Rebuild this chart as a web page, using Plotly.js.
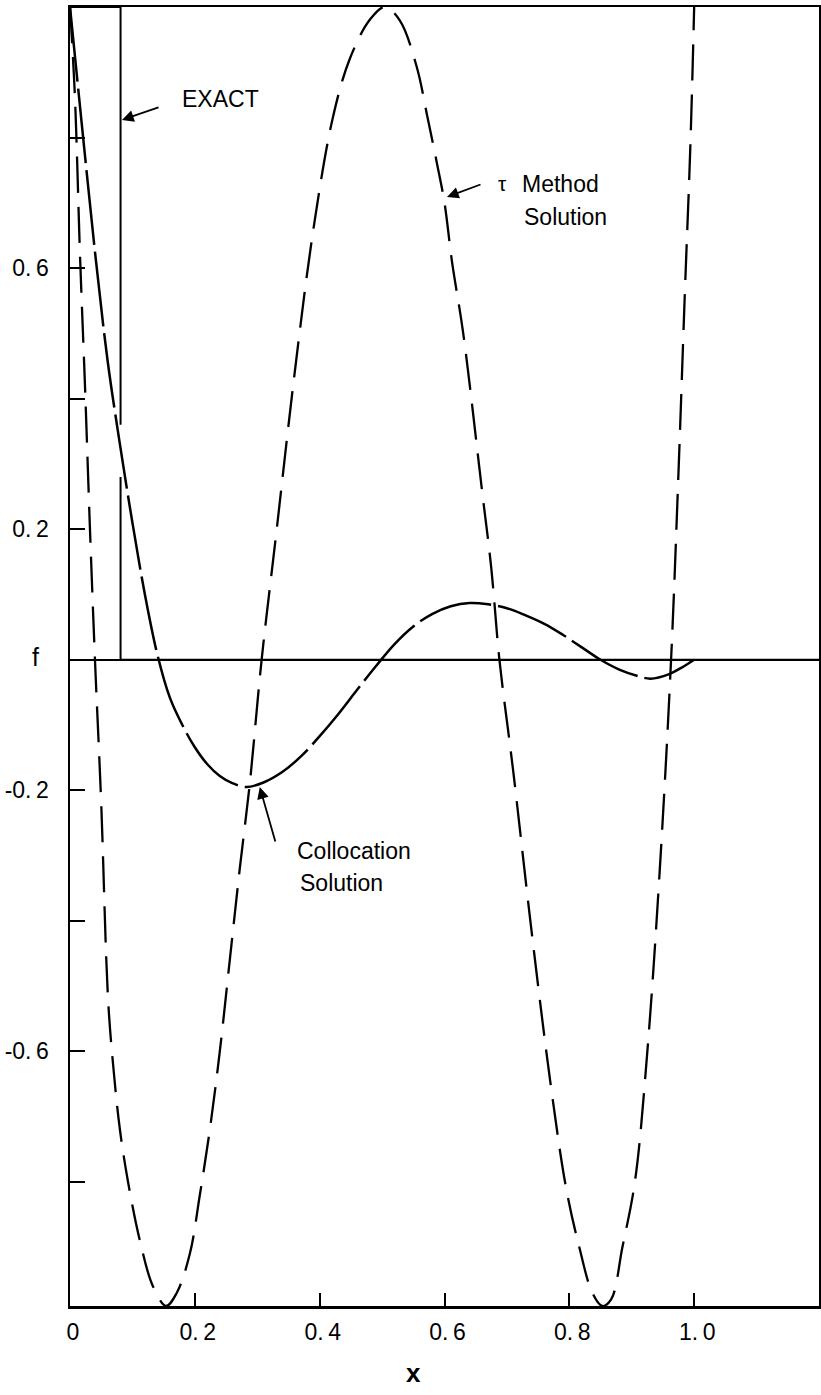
<!DOCTYPE html>
<html>
<head>
<meta charset="utf-8">
<script src="https://cdn.plot.ly/plotly-3.0.1.min.js"></script>
<style>
  html, body { margin: 0; padding: 0; background: #fff; }
  #chart { width: 821px; height: 1395px; }
</style>
</head>
<body>
<div id="chart"></div>
<script>
// ---- data ----
const tauX = [0, 0.008, 0.016, 0.024, 0.032, 0.040, 0.050, 0.061, 0.070, 0.080, 0.093, 0.112, 0.133, 0.154, 0.171, 0.192, 0.208, 0.224, 0.240, 0.256, 0.272, 0.288, 0.307, 0.330, 0.360, 0.390, 0.421, 0.448, 0.480, 0.504, 0.528, 0.555, 0.573, 0.588, 0.600, 0.612, 0.630, 0.660, 0.675, 0.688, 0.710, 0.740, 0.770, 0.795, 0.816, 0.837, 0.853, 0.867, 0.885, 0.905, 0.925, 0.945, 0.963, 0.975, 0.985, 0.994, 1.0];
const tauY = [1.0, 0.86, 0.62, 0.42, 0.20, 0.0, -0.22, -0.52, -0.63, -0.72, -0.80, -0.89, -0.96, -0.99, -0.97, -0.91, -0.82, -0.72, -0.60, -0.46, -0.32, -0.19, 0.0, 0.19, 0.44, 0.66, 0.83, 0.92, 0.98, 1.0, 0.98, 0.91, 0.83, 0.76, 0.70, 0.61, 0.50, 0.26, 0.14, 0.0, -0.17, -0.42, -0.65, -0.81, -0.90, -0.97, -0.99, -0.98, -0.90, -0.80, -0.60, -0.32, 0.0, 0.29, 0.56, 0.79, 1.0];

const collocX = [0, 0.02, 0.04, 0.06, 0.08, 0.10, 0.12, 0.14, 0.16, 0.18, 0.20, 0.22, 0.24, 0.26, 0.283, 0.31, 0.34, 0.37, 0.40, 0.43, 0.46, 0.49, 0.52, 0.55, 0.58, 0.61, 0.64, 0.67, 0.70, 0.73, 0.76, 0.79, 0.82, 0.85, 0.88, 0.91, 0.93, 0.96, 0.98, 1.0];
const collocY = [1.0, 0.81, 0.625, 0.46, 0.33, 0.21, 0.10, 0.008, -0.058, -0.100, -0.134, -0.160, -0.178, -0.189, -0.195, -0.188, -0.172, -0.148, -0.117, -0.083, -0.046, -0.010, 0.024, 0.051, 0.070, 0.082, 0.087, 0.085, 0.079, 0.068, 0.055, 0.038, 0.019, 0.0, -0.015, -0.025, -0.029, -0.022, -0.012, 0.0];

const exactX = [0, 0.081, 0.081, null, 0.081, 0.081, 1.2];
const exactY = [1.0, 1.0, 0.36, null, 0.28, 0.0, 0.0];

const xTickVals = [0, 0.2, 0.4, 0.6, 0.8, 1.0];
const xTickText = ["0", "0.\u20092", "0.\u20094", "0.\u20096", "0.\u20098", "1.\u20090"];
const yTickVals = [-0.8, -0.6, -0.4, -0.2, 0, 0.2, 0.4, 0.6, 0.8];
const yTickText = ["", "-0.\u20096", "", "-0.\u20092", "", "0.\u20092", "", "0.\u20096", ""];

const FONT = "Liberation Sans, Arial, sans-serif";

const traces = [
  {
    x: exactX, y: exactY, mode: "lines", type: "scatter",
    line: { color: "#000", width: 2 }, hoverinfo: "skip", showlegend: false
  },
  {
    x: tauX, y: tauY, mode: "lines", type: "scatter",
    line: { color: "#000", width: 2.3, dash: "36px,14px", shape: "spline", smoothing: 1 },
    hoverinfo: "skip", showlegend: false
  },
  {
    x: collocX, y: collocY, mode: "lines", type: "scatter",
    line: { color: "#000", width: 2.5, dash: "75px,7px", shape: "spline", smoothing: 1 },
    hoverinfo: "skip", showlegend: false
  }
];

const txt = (s, x, y, xanchor, size, bold) => ({
  text: bold ? "<b>" + s + "</b>" : s, xref: "paper", yref: "paper",
  x: x, y: y, xanchor: xanchor, yanchor: "middle", showarrow: false,
  font: { family: FONT, size: size, color: "#000" }
});

// paper coords helpers (plot area: x 70..819, y 7..1306)
const px = v => (v - 70) / 749;
const py = v => (1306 - v) / 1299;

const layout = {
  width: 821, height: 1395,
  margin: { l: 70, r: 2, t: 7, b: 89 },
  paper_bgcolor: "#fff", plot_bgcolor: "#fff",
  showlegend: false,
  font: { family: FONT, color: "#000" },
  xaxis: {
    range: [0, 1.2], showgrid: false, zeroline: false,
    showline: true, mirror: true, linecolor: "#000", linewidth: 2.5,
    ticks: "inside", ticklen: 13, tickwidth: 2, tickcolor: "#000",
    tickvals: xTickVals, ticktext: xTickText,
    tickfont: { family: FONT, size: 23, color: "#000" },
    ticklabelstandoff: 4, ticklabelshift: 3
  },
  yaxis: {
    range: [-0.99, 1.0], showgrid: false,
    zeroline: true, zerolinecolor: "#000", zerolinewidth: 1.6,
    showline: true, mirror: true, linecolor: "#000", linewidth: 2.5,
    ticks: "inside", ticklen: 15, tickwidth: 2, tickcolor: "#000",
    tickvals: yTickVals, ticktext: yTickText,
    tickfont: { family: FONT, size: 23, color: "#000" },
    ticklabelstandoff: 14
  },
  annotations: [
    txt("EXACT", px(180), py(99), "left", 23, false),
    txt("\u03c4", px(502), py(183), "center", 21, false),
    txt("Method", px(520), py(184), "left", 23, false),
    txt("Solution", px(522), py(217), "left", 23, false),
    txt("Collocation", px(295), py(851), "left", 23, false),
    txt("Solution", px(298), py(883), "left", 23, false),
    txt("f", px(35), py(657), "center", 25, false),
    txt("x", px(413), py(1373), "center", 26, true),
    {
      x: 0.0833, y: 0.827, xref: "x", yref: "y", text: "", showarrow: true,
      ax: 38, ay: -13, arrowhead: 2, arrowsize: 1.3, arrowwidth: 1.8, arrowcolor: "#000", standoff: 0
    },
    {
      x: 0.604, y: 0.709, xref: "x", yref: "y", text: "", showarrow: true,
      ax: 35, ay: -13, arrowhead: 2, arrowsize: 1.3, arrowwidth: 1.8, arrowcolor: "#000", standoff: 0
    },
    {
      x: 0.304, y: -0.195, xref: "x", yref: "y", text: "", showarrow: true,
      ax: 16, ay: 56, arrowhead: 2, arrowsize: 1.3, arrowwidth: 1.8, arrowcolor: "#000", standoff: 0
    }
  ]
};

Plotly.newPlot("chart", traces, layout, { staticPlot: true, displayModeBar: false });
</script>
</body>
</html>
